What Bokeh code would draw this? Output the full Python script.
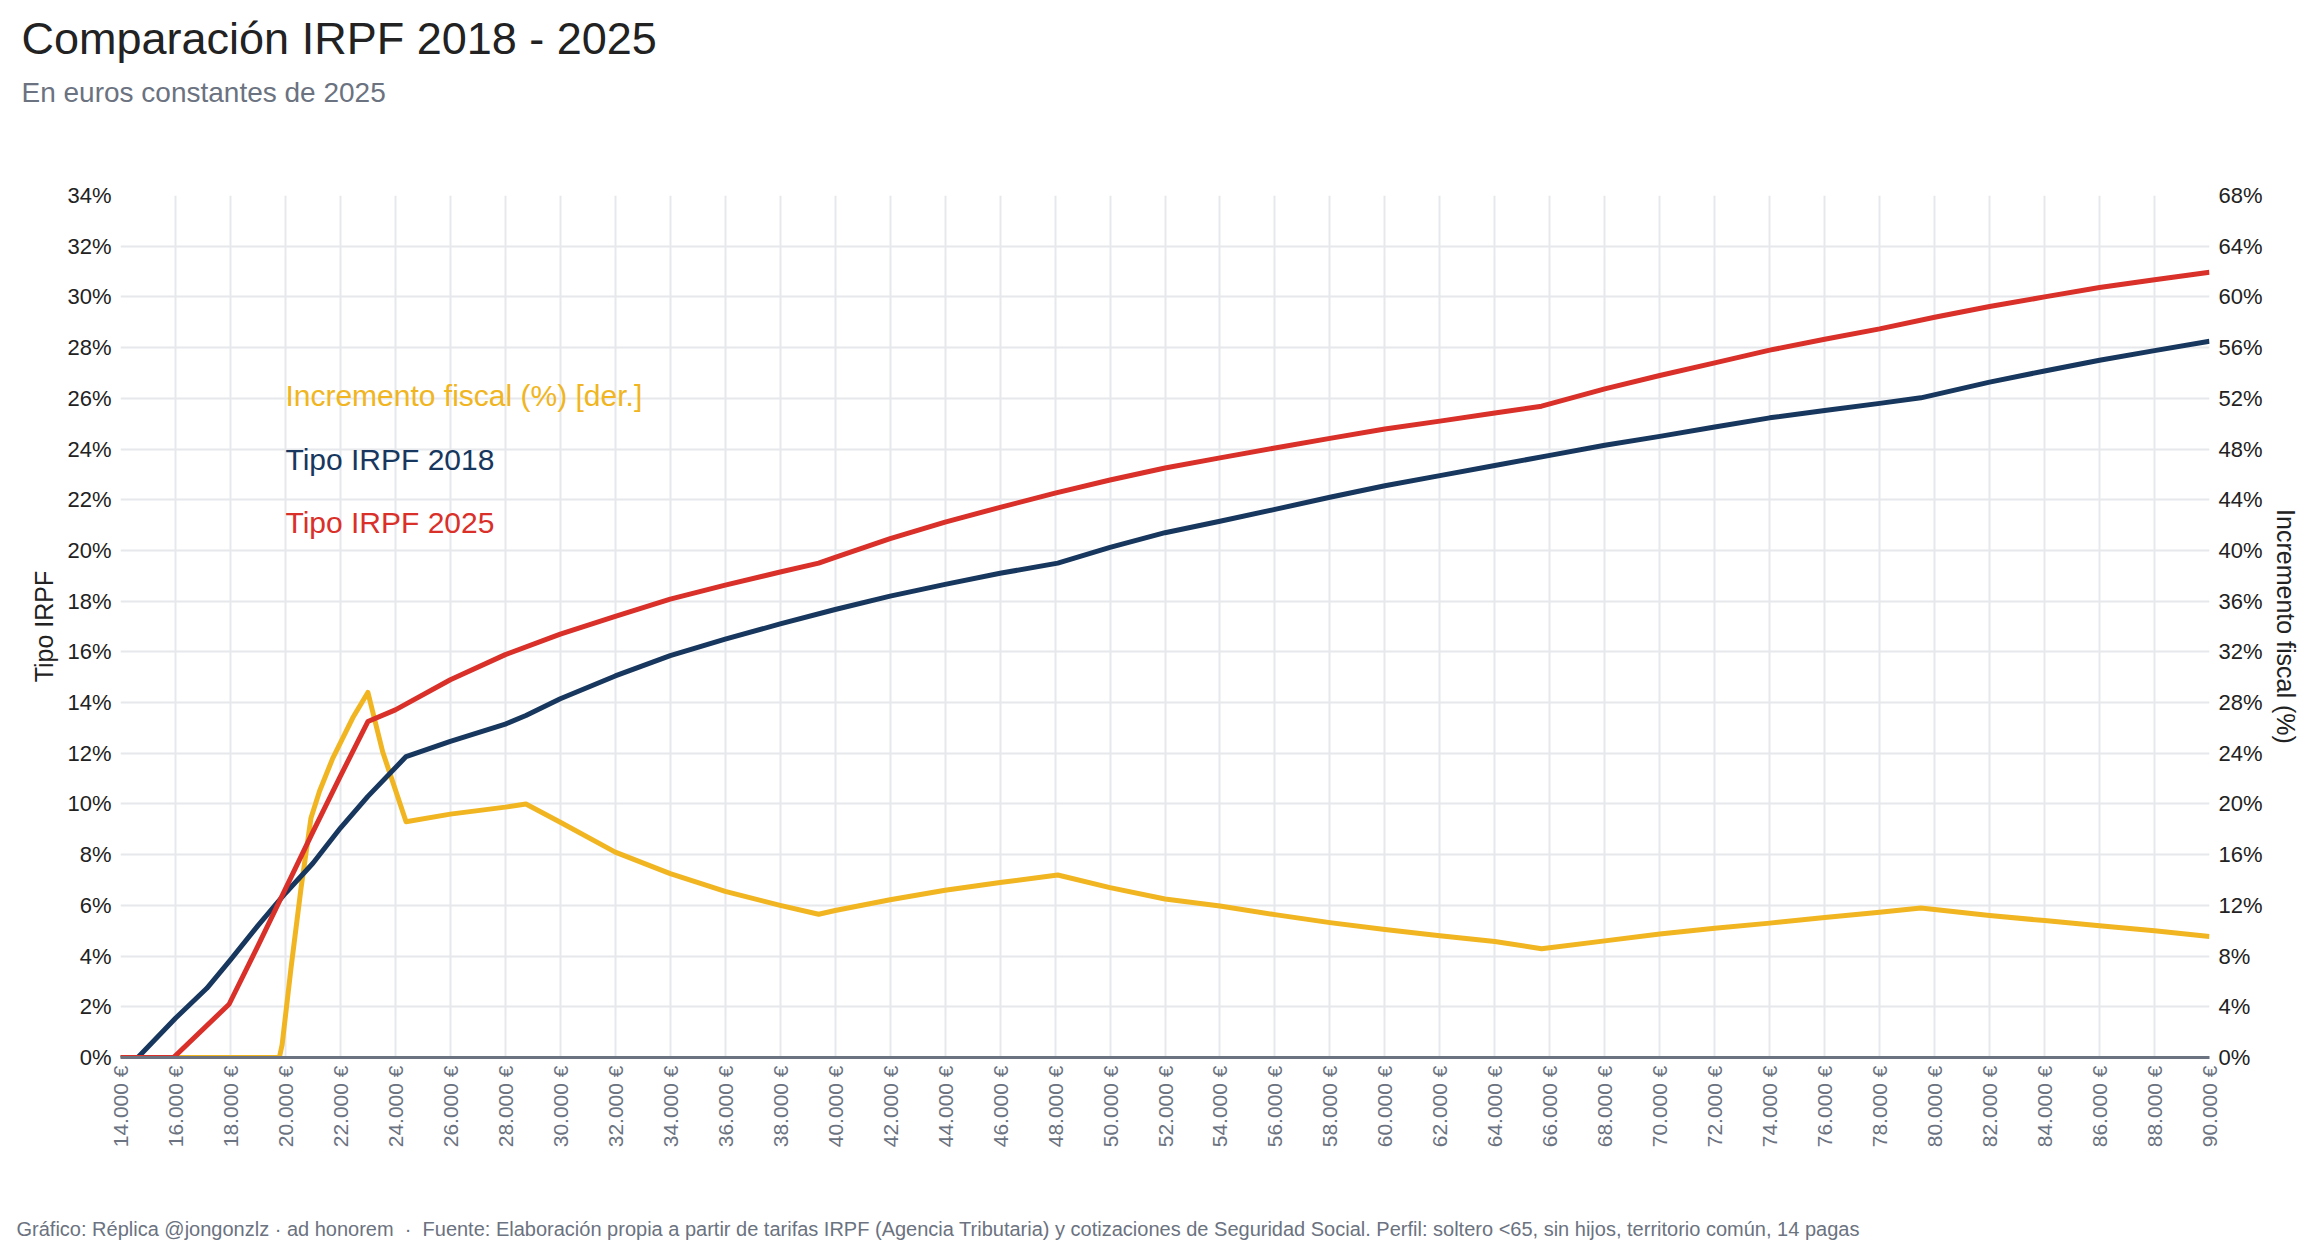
import math

from bokeh.embed import file_html
from bokeh.models import (FixedTicker, Label, LinearAxis, PrintfTickFormatter,
                          Range1d, Title)
from bokeh.plotting import figure
from bokeh.resources import INLINE

# Gross annual income (EUR) and effective IRPF rate (%) for each year
renta_2018 = [14000, 14630, 16000, 17140, 18000, 19000, 20000, 21000, 22000, 23000,
              24390, 26000, 28000, 28750, 30000, 32000, 34000, 36000, 38000, 40000,
              42000, 44000, 46000, 48100, 50000, 52000, 54000, 56000, 58000, 60000,
              62000, 64000, 66000, 68000, 70000, 72000, 74000, 76000, 78000, 79500,
              82000, 84000, 86000, 88000, 90000]
tipo_2018 = [0, 0, 1.55, 2.73, 3.85, 5.2, 6.48, 7.66, 9.05, 10.3,
             11.87, 12.47, 13.15, 13.49, 14.15, 15.05, 15.85, 16.5, 17.1, 17.67,
             18.2, 18.66, 19.1, 19.5, 20.12, 20.7, 21.15, 21.62, 22.1, 22.55,
             22.95, 23.35, 23.75, 24.15, 24.5, 24.87, 25.23, 25.52, 25.8, 26.02,
             26.64, 27.08, 27.5, 27.88, 28.25]

renta_2025 = [14000, 15930, 17950, 19000, 20000, 21000, 22000, 23000, 24000, 26000,
              28000, 30000, 32000, 34000, 36000, 38000, 39400, 40000, 42000,
              44000, 46000, 48000, 50000, 52000, 54000, 56000, 58000, 60000, 62000,
              64000, 65700, 68000, 70000, 72000, 74000, 76000, 78000, 80000, 82000,
              84000, 86000, 88000, 90000]
tipo_2025 = [0, 0, 2.1, 4.4, 6.65, 8.9, 11.1, 13.25, 13.71, 14.9,
             15.89, 16.7, 17.4, 18.08, 18.63, 19.15, 19.5, 19.73, 20.47,
             21.12, 21.7, 22.26, 22.78, 23.25, 23.65, 24.04, 24.42, 24.79, 25.1,
             25.42, 25.69, 26.37, 26.9, 27.4, 27.9, 28.33, 28.74, 29.2, 29.62,
             30.0, 30.37, 30.68, 30.97]

# Tax increase 2018 -> 2025 (%), read on the right-hand axis
renta_inc = [14000, 19780, 19880, 20200, 20570, 20930, 21240, 21720, 22450, 23000,
             23540, 24390, 26000, 28000, 28750, 30000, 32000, 34000, 36000, 38000,
             39400, 40000, 42000, 44000, 46000, 48100, 50000, 52000, 54000, 56000,
             58000, 60000, 62000, 64000, 65700, 68000, 70000, 72000, 74000, 76000,
             78000, 79500, 82000, 84000, 86000, 88000, 90000]
incremento = [0, 0, 1.0, 7.0, 13.4, 18.9, 21.0, 23.6, 26.8, 28.8,
              24.1, 18.6, 19.2, 19.75, 20.0, 18.56, 16.2, 14.5, 13.1, 12.0,
              11.3, 11.6, 12.44, 13.2, 13.8, 14.4, 13.4, 12.5, 11.95, 11.27,
              10.64, 10.1, 9.6, 9.15, 8.58, 9.2, 9.75, 10.2, 10.6, 11.05,
              11.45, 11.8, 11.2, 10.8, 10.4, 10.0, 9.55]

x_ticks = list(range(14000, 90001, 2000))
x_tick_labels = [f"{v:,}".replace(",", ".") + " €" for v in x_ticks]
y_ticks_left = list(range(0, 35, 2))
y_ticks_right = list(range(0, 69, 4))

series_names = ["Incremento fiscal (%) [der.]", "Tipo IRPF 2018", "Tipo IRPF 2025"]

FONT = "Liberation Sans"
NAVY = "#17375e"
RED = "#d9302a"
YELLOW = "#f0b521"
GREY = "#6b7280"
DARK = "#222222"
GRID = "#e6e8ec"

p = figure(width=2315, height=1259, output_backend="svg", toolbar_location=None,
           title=None, x_range=Range1d(14000, 90000), y_range=Range1d(0, 34),
           min_border_left=120, min_border_right=106, min_border_top=195,
           min_border_bottom=202, background_fill_color="white",
           border_fill_color="white", outline_line_color=None)
p.extra_y_ranges = {"inc": Range1d(0, 68)}

# Lines
p.line(renta_inc, incremento, y_range_name="inc", line_color=YELLOW,
       line_width=5, line_join="round")
p.line(renta_2018, tipo_2018, line_color=NAVY, line_width=5, line_join="round")
p.line(renta_2025, tipo_2025, line_color=RED, line_width=5, line_join="round")

# Bottom axis
xa = p.xaxis[0]
xa.ticker = FixedTicker(ticks=x_ticks)
xa.major_label_overrides = dict(zip(x_ticks, x_tick_labels))
xa.major_label_orientation = math.pi / 2
xa.major_label_text_font = FONT
xa.major_label_text_font_size = "21px"
xa.major_label_text_color = GREY
xa.major_label_standoff = 8
xa.axis_line_color = GREY
xa.axis_line_width = 3
xa.major_tick_line_color = None
xa.major_tick_out = 0
xa.minor_tick_line_color = None

# Left and right axes
ya = p.yaxis[0]
ya.ticker = FixedTicker(ticks=y_ticks_left)
ya.formatter = PrintfTickFormatter(format="%d%%")
ya.axis_label = "Tipo IRPF"

ra = LinearAxis(y_range_name="inc", ticker=FixedTicker(ticks=y_ticks_right),
                formatter=PrintfTickFormatter(format="%d%%"),
                axis_label="Incremento fiscal (%)")
p.add_layout(ra, "right")

for ax in (ya, ra):
    ax.axis_line_color = None
    ax.major_tick_line_color = None
    ax.major_tick_out = 0
    ax.minor_tick_line_color = None
    ax.minor_tick_out = 0
    ax.major_label_text_font = FONT
    ax.major_label_text_font_size = "22px"
    ax.major_label_text_color = DARK
    ax.major_label_standoff = 9
    ax.axis_label_text_font = FONT
    ax.axis_label_text_font_size = "25px"
    ax.axis_label_text_font_style = "normal"
    ax.axis_label_text_color = DARK
    ax.axis_label_standoff = 6

# Grid
p.xgrid.ticker = FixedTicker(ticks=x_ticks)
p.ygrid.ticker = FixedTicker(ticks=y_ticks_left)
for g in (p.xgrid[0], p.ygrid[0]):
    g.grid_line_color = GRID
    g.grid_line_width = 2

# In-plot series labels
label_colors = [YELLOW, NAVY, RED]
label_levels = [26.1, 23.6, 21.1]
for name, col, lvl in zip(series_names, label_colors, label_levels):
    p.add_layout(Label(x=20000, y=lvl, text=name, text_color=col,
                       text_font=FONT, text_font_size="30px",
                       text_baseline="middle", text_align="left"))

# Header: blank spacer next to the frame, then subtitle, then title
p.add_layout(Title(text=" ", text_font_size="10px", standoff=73), "above")
p.add_layout(Title(text="En euros constantes de 2025", text_font=FONT,
                   text_font_size="28px", text_font_style="normal",
                   text_color=GREY, align="left", offset=-99, standoff=4),
             "above")
p.add_layout(Title(text="Comparación IRPF 2018 - 2025", text_font=FONT,
                   text_font_size="45px", text_font_style="normal",
                   text_color=DARK, align="left", offset=-99, standoff=17),
             "above")

# Footer: spacer below the axis, then the source note
p.add_layout(Title(text=" ", text_font_size="10px", standoff=50), "below")
p.add_layout(Title(text="Gráfico: Réplica @jongonzlz · ad honorem\u00a0\u00a0·\u00a0\u00a0"
                        "Fuente: Elaboración propia a partir de tarifas IRPF (Agencia "
                        "Tributaria) y cotizaciones de Seguridad Social. Perfil: "
                        "soltero <65, sin hijos, territorio común, 14 pagas",
                   text_font=FONT, text_font_size="20px", text_font_style="normal",
                   text_color=GREY, align="left", offset=-104, standoff=4),
             "below")

open("out.html", "w").write(file_html(p, INLINE))
